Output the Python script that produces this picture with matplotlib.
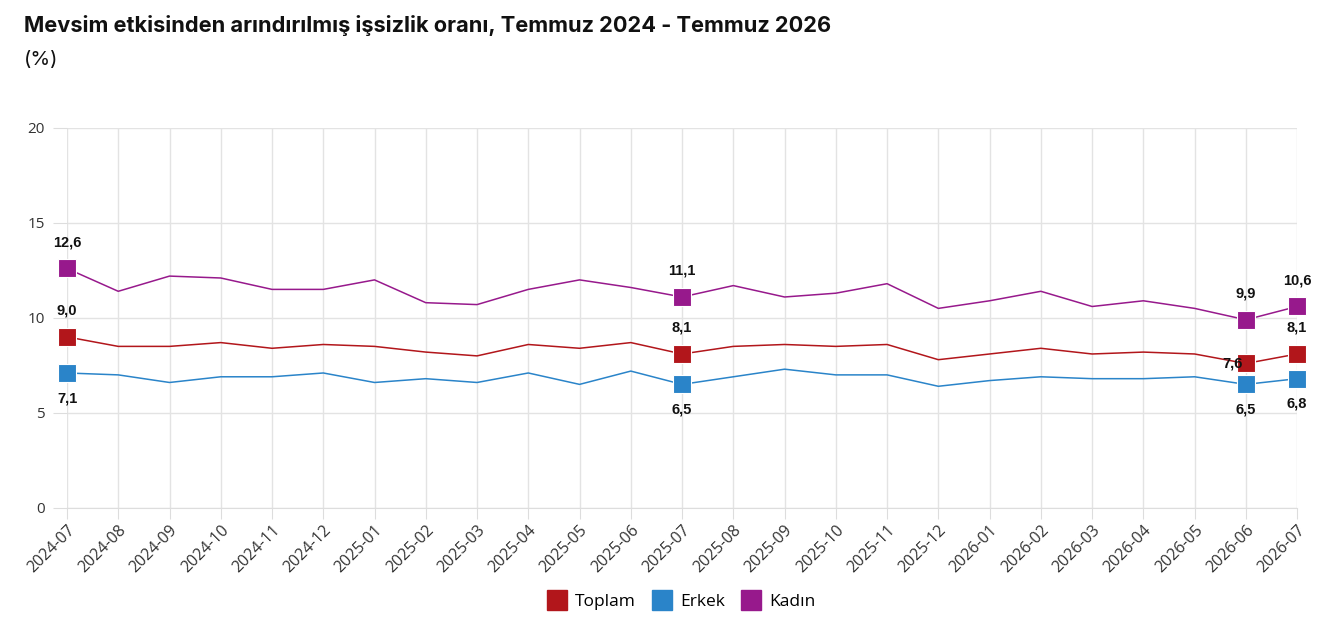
import matplotlib
matplotlib.use("Agg")
import matplotlib.pyplot as plt
from matplotlib.lines import Line2D

months = ["2024-07", "2024-08", "2024-09", "2024-10", "2024-11", "2024-12",
          "2025-01", "2025-02", "2025-03", "2025-04", "2025-05", "2025-06",
          "2025-07", "2025-08", "2025-09", "2025-10", "2025-11", "2025-12",
          "2026-01", "2026-02", "2026-03", "2026-04", "2026-05", "2026-06",
          "2026-07"]
toplam = [9.0, 8.5, 8.5, 8.7, 8.4, 8.6, 8.5, 8.2, 8.0, 8.6, 8.4, 8.7,
          8.1, 8.5, 8.6, 8.5, 8.6, 7.8, 8.1, 8.4, 8.1, 8.2, 8.1, 7.6, 8.1]
erkek = [7.1, 7.0, 6.6, 6.9, 6.9, 7.1, 6.6, 6.8, 6.6, 7.1, 6.5, 7.2,
         6.5, 6.9, 7.3, 7.0, 7.0, 6.4, 6.7, 6.9, 6.8, 6.8, 6.9, 6.5, 6.8]
kadin = [12.6, 11.4, 12.2, 12.1, 11.5, 11.5, 12.0, 10.8, 10.7, 11.5, 12.0, 11.6,
         11.1, 11.7, 11.1, 11.3, 11.8, 10.5, 10.9, 11.4, 10.6, 10.9, 10.5, 9.9, 10.6]
series_names = ["Toplam", "Erkek", "Kadın"]
highlight_idx = [0, 12, 23, 24]
y_ticks = [0, 5, 10, 15, 20]

colors = ["#B2161B", "#2A84C9", "#97198C"]

fig = plt.figure(figsize=(13.4, 6.27), dpi=100)
ax = fig.add_axes([0.05, 0.19, 0.918, 0.606])

x = list(range(len(months)))
data = [toplam, erkek, kadin]
for vals, c in zip(data, colors):
    ax.plot(x, vals, color=c, lw=1.1, zorder=3, clip_on=False)
    hx = [x[i] for i in highlight_idx]
    hy = [vals[i] for i in highlight_idx]
    ax.plot(hx, hy, ls="none", marker="s", ms=12.5, color=c,
            markeredgecolor="white", markeredgewidth=0.8, zorder=4, clip_on=False)

def fmt(v):
    return f"{v:.1f}".replace(".", ",")

lab_font = dict(fontsize=10.5, fontweight="bold", color="#111111",
                family=["Liberation Sans", "DejaVu Sans"], zorder=5)
for i in highlight_idx:
    ax.annotate(fmt(kadin[i]), (x[i], kadin[i]), xytext=(0, 14),
                textcoords="offset points", ha="center", va="bottom", **lab_font)
    ax.annotate(fmt(erkek[i]), (x[i], erkek[i]), xytext=(0, -13),
                textcoords="offset points", ha="center", va="top", **lab_font)
    if i == 23:
        ax.annotate(fmt(toplam[i]), (x[i], toplam[i]), xytext=(-2, 0),
                    textcoords="offset points", ha="right", va="center", **lab_font)
    else:
        ax.annotate(fmt(toplam[i]), (x[i], toplam[i]), xytext=(0, 14),
                    textcoords="offset points", ha="center", va="bottom", **lab_font)

ax.set_xlim(0, len(months) - 1)
ax.set_ylim(0, 20)
ax.set_yticks(y_ticks)
ax.set_xticks(x)
ax.set_xticklabels(months, rotation=45, ha="right", rotation_mode="anchor",
                   fontsize=11.5, color="#333333", family="Open Sans")
for t in ax.get_yticklabels():
    t.set_fontsize(11)
    t.set_color("#333333")
    t.set_family("Open Sans")
ax.tick_params(axis="y", length=10, color="#dddddd", pad=6)
ax.tick_params(axis="x", length=8, color="#dddddd", pad=2)
ax.grid(True, color="#e3e3e3", lw=1)
ax.set_axisbelow(True)
for s in ax.spines.values():
    s.set_visible(False)
ax.spines["bottom"].set_visible(True)
ax.spines["bottom"].set_color("#dddddd")

fig.text(0.018, 0.96, "Mevsim etkisinden arındırılmış işsizlik oranı, Temmuz 2024 - Temmuz 2026",
         fontsize=15.7, fontweight="bold", family="Inter", color="#111111", va="center")
fig.text(0.018, 0.905, "(%)", fontsize=14.5, family="Inter", color="#111111", va="center")

handles = [Line2D([], [], ls="none", marker="s", ms=14, color=c) for c in colors]
fig.legend(handles, series_names, loc="center", bbox_to_anchor=(0.508, 0.04),
           ncol=3, frameon=False, handletextpad=0.45, columnspacing=0.9,
           handlelength=1.2, prop={"family": "Open Sans", "size": 12.5})

fig.savefig("out.png", dpi=100, facecolor="white")
